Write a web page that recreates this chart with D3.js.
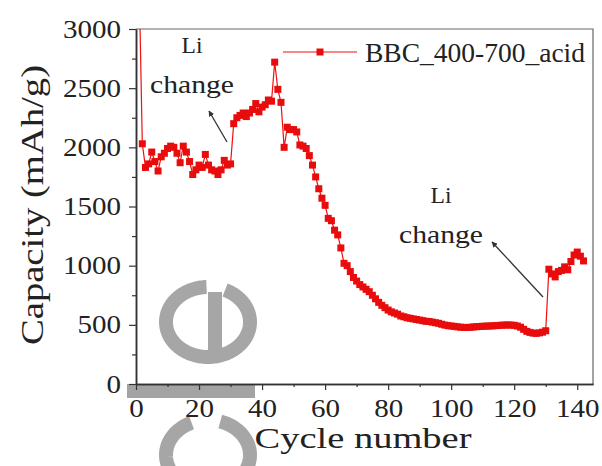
<!DOCTYPE html>
<html>
<head>
<meta charset="utf-8">
<script src="https://cdn.jsdelivr.net/npm/d3@7"></script>
<style>
body { margin: 0; background: #fff; }
text { font-family: "Liberation Serif", "Times New Roman", serif; fill: #222; }
</style>
</head>
<body>
<div id="chart"></div>
<script>
// capacity per cycle (cycle 1 is off the top of the chart)
var capacity = [3400, 2030, 1830, 1860, 1960, 1880, 1800, 1920, 1950, 1990,
	2010, 2000, 1950, 1870, 2010, 1960, 1880, 1770, 1810, 1850,
	1830, 1940, 1850, 1810, 1800, 1770, 1810, 1890, 1850, 1860,
	2200, 2250, 2270, 2290, 2260, 2290, 2320, 2370, 2300, 2340,
	2360, 2400, 2390, 2720, 2490, 2380, 2000, 2170, 2150, 2150,
	2130, 2020, 2010, 1990, 1930, 1850, 1750, 1650, 1570, 1510,
	1400, 1380, 1300, 1260, 1150, 1020, 1000, 950, 900, 870,
	840, 820, 800, 780, 750, 720, 690, 665, 645, 625,
	610, 600, 590, 575, 568, 560, 555, 550, 545, 540,
	535, 530, 528, 523, 518, 513, 505, 498, 493, 490,
	487, 483, 480, 478, 478, 479, 482, 484, 486, 488,
	489, 490, 491, 493, 495, 497, 498, 499, 498, 496,
	490, 480, 462, 445, 436, 430, 428, 432, 438, 450,
	970, 930, 905, 950, 960, 990, 965, 1035, 1090, 1115,
	1080, 1040];

var xTicks = [0, 20, 40, 60, 80, 100, 120, 140];
var xMinor = [10, 30, 50, 70, 90, 110, 130];
var yTicks = [0, 500, 1000, 1500, 2000, 2500, 3000];
var yMinor = [250, 750, 1250, 1750, 2250, 2750];
var seriesName = "BBC_400-700_acid";

var data = capacity.map(function(v, i){ return {cycle: i + 1, cap: v}; });

var margin = {left: 136, right: 9, top: 29, bottom: 82};
var width = 602 - margin.left - margin.right,
	height = 466 - margin.top - margin.bottom;

var svg = d3.select("#chart").append("svg")
	.attr("width", 602)
	.attr("height", 466);

// watermark shapes (behind everything)
var grey = "#a6a6a6";
function arcPath(cx, cy, rx, ry, a0, a1) {
	var pts = d3.range(a0, a1 + 0.5, 2).map(function(a){
		var r = a * Math.PI / 180;
		return [cx + rx * Math.cos(r), cy + ry * Math.sin(r)];
	});
	return d3.line()(pts);
}
var wm = svg.append("g").attr("fill", "none").attr("stroke", grey).attr("stroke-width", 14);
wm.append("path").attr("d", arcPath(208, 322, 42, 35, -66, 268));
wm.append("path").attr("d", arcPath(208, 455, 42, 35, -73, 248));
svg.append("rect").attr("x", 208).attr("y", 292).attr("width", 14).attr("height", 64).attr("fill", grey);
svg.append("rect").attr("x", 127).attr("y", 384).attr("width", 128).attr("height", 14).attr("fill", "#a3a3a3");

var canvas = svg.append("g")
	.attr("transform", "translate(" + margin.left + "," + margin.top + ")");

var x = d3.scaleLinear().domain([0, 145]).range([0, width]);
var y = d3.scaleLinear().domain([0, 3000]).range([height, 0]);

// frame top / right
canvas.append("path")
	.attr("d", "M0,0H" + width + "V" + height)
	.attr("fill", "none")
	.attr("stroke", "#666")
	.attr("stroke-width", 1.2);

// axes
function fitDigits(sel) {
	sel.selectAll("text")
		.attr("font-size", "25px")
		.attr("fill", "#222")
		.attr("textLength", function(d){ return String(d).length * 14.5; })
		.attr("lengthAdjust", "spacingAndGlyphs");
}

var xAxis = canvas.append("g")
	.attr("class", "x-axis")
	.attr("transform", "translate(0," + height + ")")
	.call(d3.axisBottom(x).tickValues(xTicks).tickFormat(d3.format("d"))
		.tickSize(6).tickPadding(9).tickSizeOuter(0));
xAxis.call(fitDigits);
canvas.append("g")
	.attr("transform", "translate(0," + height + ")")
	.call(d3.axisBottom(x).tickValues(xMinor).tickSize(3).tickFormat("").tickSizeOuter(0));

var yAxis = canvas.append("g")
	.attr("class", "y-axis")
	.call(d3.axisLeft(y).tickValues(yTicks).tickFormat(d3.format("d"))
		.tickSize(7).tickPadding(8).tickSizeOuter(0));
yAxis.call(fitDigits);
canvas.append("g")
	.call(d3.axisLeft(y).tickValues(yMinor).tickSize(4).tickFormat("").tickSizeOuter(0));

canvas.selectAll(".domain").attr("stroke", "#333").attr("stroke-width", 1.5);
canvas.selectAll(".tick line").attr("stroke", "#333").attr("stroke-width", 1.2);

// axis labels
canvas.append("text")
	.attr("x", 363 - margin.left)
	.attr("y", 448 - margin.top)
	.attr("text-anchor", "middle")
	.attr("font-size", "30px")
	.attr("textLength", 217)
	.attr("lengthAdjust", "spacingAndGlyphs")
	.text("Cycle number");

canvas.append("text")
	.attr("transform", "translate(" + (43 - margin.left) + "," + (205 - margin.top) + ") rotate(-90)")
	.attr("text-anchor", "middle")
	.attr("font-size", "32px")
	.attr("textLength", 280)
	.attr("lengthAdjust", "spacingAndGlyphs")
	.text("Capacity (mAh/g)");

// data
canvas.append("clipPath").attr("id", "plot-clip")
	.append("rect").attr("x", 0).attr("y", 0).attr("width", width).attr("height", height);

var plot = canvas.append("g").attr("clip-path", "url(#plot-clip)");

plot.append("path")
	.datum(data)
	.attr("fill", "none")
	.attr("stroke", "#f01010")
	.attr("stroke-width", 1.2)
	.attr("d", d3.line().x(function(d){ return x(d.cycle); }).y(function(d){ return y(d.cap); }));

plot.selectAll("rect.pt")
	.data(data)
	.enter().append("rect")
	.attr("class", "pt")
	.attr("x", function(d){ return x(d.cycle) - 3.5; })
	.attr("y", function(d){ return y(d.cap) - 3.5; })
	.attr("width", 7)
	.attr("height", 7)
	.attr("fill", "#e80c0c");

// legend
var legend = svg.append("g");
legend.append("line")
	.attr("x1", 283).attr("x2", 357).attr("y1", 52).attr("y2", 52)
	.attr("stroke", "#f01010").attr("stroke-width", 1.2);
legend.append("rect")
	.attr("x", 320 - 3.5).attr("y", 52 - 3.5).attr("width", 7).attr("height", 7)
	.attr("fill", "#e80c0c");
legend.append("text")
	.attr("x", 365).attr("y", 62)
	.attr("font-size", "27px")
	.attr("textLength", 220)
	.attr("lengthAdjust", "spacingAndGlyphs")
	.text(seriesName);

// annotations
svg.append("defs").append("marker")
	.attr("id", "head")
	.attr("viewBox", "0 0 10 10")
	.attr("refX", 9).attr("refY", 5)
	.attr("markerWidth", 4.5).attr("markerHeight", 4.5)
	.attr("orient", "auto")
	.append("path").attr("d", "M0,0L10,5L0,10Z").attr("fill", "#333");

function note(cx, by, arrow) {
	svg.append("text").attr("x", cx).attr("y", by)
		.attr("text-anchor", "middle").attr("font-size", "24px")
		.attr("textLength", 21).attr("lengthAdjust", "spacingAndGlyphs")
		.text("Li");
	svg.append("text").attr("x", cx).attr("y", by + 40)
		.attr("text-anchor", "middle").attr("font-size", "25px")
		.attr("textLength", 84).attr("lengthAdjust", "spacingAndGlyphs")
		.text("change");
	svg.append("line")
		.attr("x1", arrow[0]).attr("y1", arrow[1]).attr("x2", arrow[2]).attr("y2", arrow[3])
		.attr("stroke", "#333").attr("stroke-width", 1.3)
		.attr("marker-end", "url(#head)");
}
note(192, 53, [227, 142, 209, 111]);
note(441, 203, [543, 297, 492, 242]);
</script>
</body>
</html>
